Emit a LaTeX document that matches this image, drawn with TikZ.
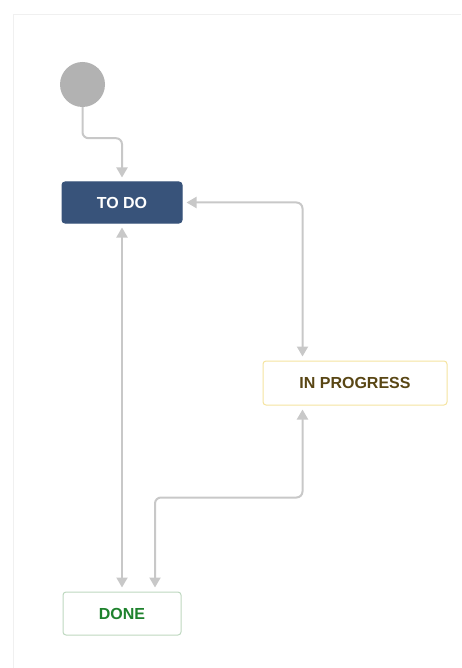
\documentclass[tikz,border=0pt]{standalone}
\usepackage{fontspec}
\setmainfont{Liberation Sans}
\usetikzlibrary{arrows.meta,calc}
\definecolor{todoblue}{RGB}{56,83,122}
\definecolor{linegray}{RGB}{200,200,200}
\definecolor{startgray}{RGB}{178,178,178}
\definecolor{ipborder}{RGB}{245,228,160}
\definecolor{iptext}{RGB}{89,70,20}
\definecolor{doneborder}{RGB}{190,216,192}
\definecolor{donetext}{RGB}{30,130,45}
\definecolor{panelline}{RGB}{240,240,240}
\tikzset{
  statebox/.style={rounded corners=3pt, line width=1pt, font=\bfseries\fontsize{16}{18}\selectfont, inner sep=0pt},
  conn/.style={draw=linegray, line width=2pt, rounded corners=6pt,
    -{Triangle[width=11pt,length=10pt]}, shorten >=4pt},
  conn2/.style={conn, {Triangle[width=11pt,length=10pt]}-{Triangle[width=11pt,length=10pt]}, shorten <=4pt},
}
\begin{document}
\begin{tikzpicture}[x=1pt,y=-1pt]
\useasboundingbox (0,0) rectangle (461,668);
\draw[panelline, line width=1pt] (13,668) -- (13,15) -- (461,15);
\node[circle, fill=startgray, minimum size=45pt, inner sep=0pt] (start) at (82.5,84.5) {};
\node[statebox, fill=todoblue, draw=todoblue, text=white, minimum width=120pt, minimum height=41pt] (todo) at (122,202.5) {TO DO};
\node[statebox, fill=white, draw=ipborder, text=iptext, minimum width=184pt, minimum height=44pt] (ip) at (355,383) {IN PROGRESS};
\node[statebox, fill=white, draw=doneborder, text=donetext, minimum width=118pt, minimum height=43pt] (done) at (122,613.5) {DONE};
\draw[conn] (start.south) -- ++(0,31) -| (todo.north);
\draw[conn2] (todo.south) -- (done.north);
\draw[conn2] (todo.east) -| ([xshift=40pt]ip.north west);
\draw[conn2] ([xshift=40pt]ip.south west) -- ++(0,92) -| ([xshift=33pt]done.north);
\end{tikzpicture}
\end{document}
